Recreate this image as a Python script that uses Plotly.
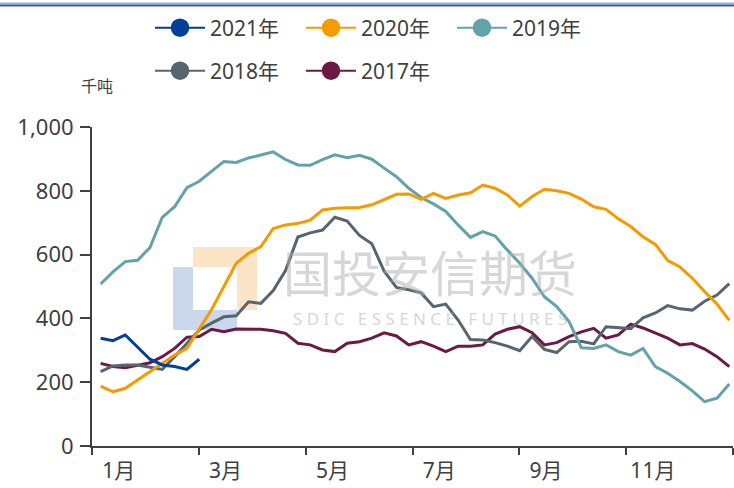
import plotly.graph_objects as go

# ---------------- data (weekly, thousand tonnes) ----------------
years = ["2021年", "2020年", "2019年", "2018年", "2017年"]
colors = ["#023F98", "#F59B00", "#62A3AA", "#56656F", "#6B1A44"]

s2021 = [338, 330, 348, 311, 272, 254, 249, 240, 272]
s2020 = [188, 170, 181, 207, 233, 259, 285, 306, 365, 428, 500, 573, 604, 625, 682, 693,
         698, 708, 740, 745, 747, 748, 756, 773, 789, 790, 773, 792, 776, 787, 794, 818,
         808, 787, 752, 782, 805, 800, 792, 774, 750, 742, 712, 688, 656, 632, 582, 561,
         526, 484, 445, 394]
s2019 = [508, 546, 578, 582, 622, 717, 750, 810, 830, 862, 892, 889, 903, 912, 922, 898,
         881, 880, 898, 913, 904, 911, 899, 871, 844, 808, 779, 759, 735, 693, 654, 672,
         658, 614, 573, 526, 468, 437, 390, 308, 306, 317, 296, 285, 306, 249, 228, 202,
         173, 139, 150, 194]
s2018 = [233, 251, 254, 254, 247, 240, 280, 322, 364, 385, 405, 408, 452, 447, 487, 550,
         655, 668, 677, 717, 705, 660, 634, 548, 497, 490, 480, 437, 445, 395, 334, 332,
         324, 313, 299, 343, 303, 293, 327, 328, 320, 374, 372, 368, 402, 417, 440, 430,
         426, 454, 473, 509]
s2017 = [259, 249, 245, 254, 261, 280, 306, 341, 343, 366, 358, 367, 367, 366, 361, 353,
         322, 317, 301, 296, 322, 327, 338, 355, 345, 317, 327, 313, 296, 313, 313, 317,
         351, 366, 374, 355, 317, 324, 343, 358, 369, 338, 348, 382, 370, 353, 338, 317,
         321, 304, 280, 249]
series = [s2021, s2020, s2019, s2018, s2017]

month_labels = ["1月", "3月", "5月", "7月", "9月", "11月"]
y_ticks = [0, 200, 400, 600, 800, 1000]

# ---------------- layout geometry ----------------
W, H = 734, 488
ML, MR, MT, MB = 92, 1, 127, 42
PW, PH = W - ML - MR, H - MT - MB


def px_x(p):
    return (p - ML) / PW


def px_y(p):
    return (H - MB - p) / PH


def week_pos(i):
    # weekly observation position expressed in months (axis unit)
    return (i + 0.7) * 12 / 52


FONT = "Noto Sans, Noto Sans CJK SC, sans-serif"
TXT = "#404040"

fig = go.Figure()

# actual series (drawn from 2017 up so 2021 is on top)
for name, col, vals in list(zip(years, colors, series))[::-1]:
    fig.add_trace(go.Scatter(
        x=[week_pos(i) for i in range(len(vals))], y=vals,
        mode="lines", line=dict(color=col, width=3),
        showlegend=False, hoverinfo="skip", name=name))

# legend entries (two rows -> two legends)
for k, (name, col) in enumerate(zip(years, colors)):
    fig.add_trace(go.Scatter(
        x=[None], y=[None], mode="lines+markers", name=name,
        line=dict(color=col, width=2),
        marker=dict(color=col, size=16, line=dict(color=col, width=2.5)),
        legend="legend" if k < 3 else "legend2"))

legend_common = dict(orientation="h", xanchor="left", yanchor="middle",
                     font=dict(family=FONT, size=21, color=TXT),
                     bgcolor="rgba(0,0,0,0)", entrywidth=86, entrywidthmode="pixels",
                     itemwidth=50, itemclick=False, itemdoubleclick=False)

fig.update_layout(
    width=W, height=H,
    margin=dict(l=ML, r=MR, t=MT, b=MB, pad=0),
    paper_bgcolor="white", plot_bgcolor="white",
    font=dict(family=FONT, color=TXT),
    legend=dict(x=px_x(150), y=px_y(28), **legend_common),
    legend2=dict(x=px_x(150), y=px_y(71), **legend_common),
    xaxis=dict(range=[0, 12], showgrid=False, zeroline=False,
               showline=True, linecolor="#404040", linewidth=2,
               tickmode="array", tickvals=[m + 0.5 for m in range(0, 12, 2)],
               ticktext=month_labels, ticks="", ticklabelstandoff=5,
               tickfont=dict(family=FONT, size=21, color=TXT),
               minor=dict(tickmode="array", tickvals=list(range(0, 13, 2)),
                          ticks="outside", ticklen=7, tickwidth=2, tickcolor="#404040",
                          showgrid=False)),
    yaxis=dict(range=[0, 1000], showgrid=False, zeroline=False,
               showline=True, linecolor="#404040", linewidth=2,
               tickmode="array", tickvals=y_ticks, tickformat=",",
               ticks="outside", ticklen=10, tickwidth=2, tickcolor="#404040",
               ticklabelstandoff=2,
               tickfont=dict(family=FONT, size=22, color=TXT)),
)

# unit label
fig.add_annotation(text="千吨", xref="paper", yref="paper", x=px_x(97), y=px_y(85),
                   xanchor="center", yanchor="middle",
                   showarrow=False, font=dict(family="Noto Sans CJK SC", size=16, color=TXT))

# top border (double blue rule)
fig.add_shape(type="line", xref="paper", yref="paper", x0=px_x(0), x1=px_x(W),
              y0=px_y(3.5), y1=px_y(3.5), line=dict(color="#9DB4DA", width=2))
fig.add_shape(type="line", xref="paper", yref="paper", x0=px_x(0), x1=px_x(W),
              y0=px_y(5.5), y1=px_y(5.5), line=dict(color="#2F5DA6", width=2))

# watermark logo
for (x0, y0, x1, y1, c) in [(173, 267, 193, 330, "#CBD8EB"), (193, 310, 237, 330, "#CBD8EB"),
                            (193, 247, 257, 267, "#FCE5C6"), (237, 267, 257, 310, "#FCE5C6")]:
    fig.add_shape(type="rect", xref="paper", yref="paper", layer="below",
                  x0=px_x(x0), x1=px_x(x1), y0=px_y(y1), y1=px_y(y0),
                  fillcolor=c, line=dict(width=0))

fig.add_annotation(text="国投安信期货", xref="paper", yref="paper", x=px_x(430), y=px_y(270),
                   xanchor="center", yanchor="middle", showarrow=False, opacity=0.5,
                   font=dict(family="Noto Sans CJK SC", size=49, color="#B0B0B0"))
fig.add_annotation(text="S D I C   E S S E N C E   F U T U R E S", xref="paper", yref="paper",
                   x=px_x(430), y=px_y(318), xanchor="center", yanchor="middle",
                   showarrow=False, opacity=0.5,
                   font=dict(family=FONT, size=17, color="#B0B0B0"))

fig.write_html("out.html", config={"displayModeBar": False},
               post_script="document.body.style.margin='0px';")
